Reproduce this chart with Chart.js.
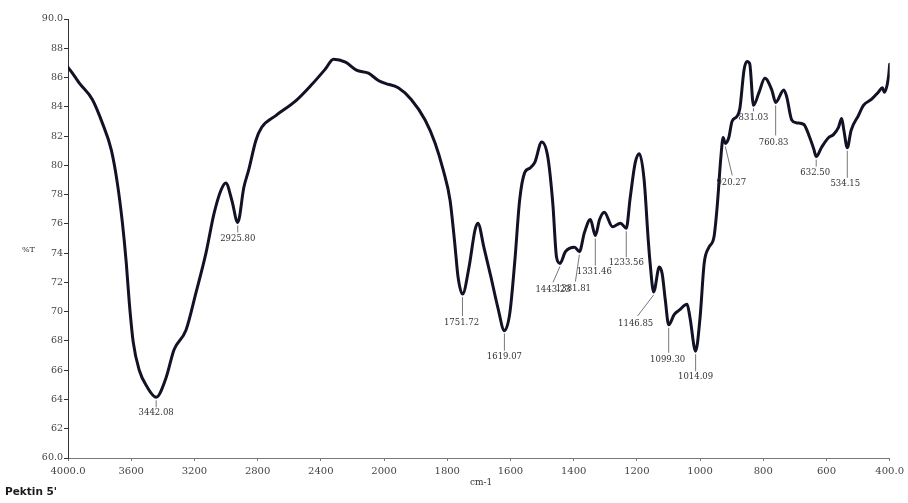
<!DOCTYPE html>
<html>
<head>
<meta charset="utf-8">
<title>Pektin 5' FTIR</title>
<script src="https://cdn.jsdelivr.net/npm/chart.js@4.4.1/dist/chart.umd.min.js"></script>
<style>
  html, body { margin: 0; padding: 0; background: #ffffff; }
  #wrap { position: relative; width: 908px; height: 503px; }
  canvas { display: block; }
</style>
</head>
<body>
<div id="wrap"><canvas id="spectrum" width="908" height="503"></canvas></div>
<script>
// IR spectrum of pectin sample 5': wavenumber (cm-1) vs. transmittance (%T)
const wavenumbers = [
  4000, 3959, 3927, 3846, 3783, 3726, 3688, 3656, 3631, 3612, 3587, 3549, 3499,
  3442.08, 3379, 3329, 3253, 3190, 3127, 3076, 3032, 3001, 2963, 2925.80,
  2887, 2856, 2811, 2774, 2685, 2559, 2459, 2370, 2320, 2244, 2175, 2099, 2036,
  1996, 1955, 1914, 1870, 1838, 1813, 1791, 1775, 1766, 1751.72, 1731, 1712,
  1703, 1684, 1662, 1640, 1619.07, 1602, 1586, 1571, 1555, 1539, 1523, 1501,
  1482, 1466, 1454, 1443.23, 1426, 1397, 1381.81, 1366, 1347, 1331.46, 1318,
  1303, 1277, 1252, 1233.56, 1221, 1205, 1192, 1177, 1164, 1158, 1146.85, 1129,
  1120, 1110, 1099.30, 1082, 1066, 1041, 1032, 1014.09, 1000, 987, 972, 956,
  946, 934, 927, 920.27, 909, 899, 883, 874, 861, 852, 843, 831.03, 814, 795,
  773, 760.83, 735, 726, 710, 694, 672, 653, 640, 632.50, 615, 593, 578, 562,
  552, 545, 534.15, 522, 499, 483, 458, 436, 423, 417, 404, 400
];
const transmittance = [
  86.7, 86.1, 85.6, 84.5, 82.9, 81.05, 78.8, 76.1, 73.3, 70.6, 67.9, 66.0, 64.85,
  64.15, 65.5, 67.4, 68.75, 71.3, 74.0, 76.7, 78.3, 78.8, 77.6, 76.1,
  78.5, 79.7, 81.7, 82.6, 83.4, 84.4, 85.5, 86.6, 87.25, 87.05, 86.5, 86.3, 85.8,
  85.6, 85.3, 84.5, 83.1, 81.5, 79.7, 77.6, 74.4, 72.4, 71.2, 73.05, 75.6,
  76.05, 74.4, 72.4, 70.3, 68.7, 69.9, 73.5, 77.6, 79.5, 79.8, 80.2, 81.6,
  80.6, 77.4, 73.7, 73.3, 74.1, 74.4, 74.1, 75.4, 76.3, 75.2, 76.3,
  76.8, 75.8, 76.05, 75.7, 77.8, 80.2, 80.8, 79.0, 74.9, 73.3, 71.35, 73.05,
  72.6, 70.8, 69.1, 69.8, 70.1, 70.5, 69.6, 67.3, 69.6, 73.3, 74.4, 75.1,
  77.15, 80.6, 81.9, 81.5, 81.9, 83.0, 83.35, 83.9, 86.5, 87.1, 86.95, 84.1, 84.95, 85.95,
  85.15, 84.3, 85.15, 84.7, 83.1, 82.9, 82.8, 81.9, 81.1, 80.6, 81.25, 81.9, 82.1, 82.6,
  83.2, 82.4, 81.2, 82.4, 83.4, 84.1, 84.5, 85.0, 85.3, 85.0, 86.0, 86.9
];

// Labelled absorption bands
const peakWavenumbers = [
  3442.08, 2925.80, 1751.72, 1619.07, 1443.23, 1381.81, 1331.46, 1233.56,
  1146.85, 1099.30, 1014.09, 920.27, 831.03, 760.83, 632.50, 534.15
];

// Axis ticks
const xTickValues = [4000, 3600, 3200, 2800, 2400, 2000, 1800, 1600, 1400, 1200, 1000, 800, 600, 400];
const yTickMin = 60, yTickMax = 90, yTickStep = 2;

// Leader line end [dx, dy] and label centre [dx, dy], relative to the band minimum (px)
const peakLabelLayout = [
  [0, 10, 0, 16], [0, 10, 0, 16], [0, 22, -1, 29], [0, 20, 0, 26],
  [-7, 19, -7, 26], [-4, 30, -6, 37], [0, 30, -1, 36], [0, 29, 0, 35],
  [-16, 24, -18, 32], [0, 28, -1, 35], [0, 20, 0, 26], [7, 32, 6, 39],
  [0, 6, 0, 12], [0, 33, -2, 40], [0, 10, -1, 16], [0, 30, -2, 36]
];

// Split wavenumber axis: 4000-2000 at half the scale of 2000-400
const UNITS = 13;
function wnToUnit(wn) {
  return wn >= 2000 ? (4000 - wn) / 400 : 5 + (2000 - wn) / 200;
}
function unitToWn(u) {
  return u <= 5 ? 4000 - 400 * u : 2000 - 200 * (u - 5);
}

class SplitWavenumberScale extends Chart.LinearScale {
  static id = 'splitWavenumber';
  buildTicks() {
    this.start = this.min;
    this.end = this.max;
    return xTickValues.map(value => ({ value }));
  }
  getPixelForValue(value) {
    return this.getPixelForDecimal(wnToUnit(value) / UNITS);
  }
  getValueForPixel(pixel) {
    return unitToWn(this.getDecimalForPixel(pixel) * UNITS);
  }
}
Chart.register(SplitWavenumberScale);

const serif = '"DejaVu Serif", "Liberation Serif", serif';

const annotations = {
  id: 'spectrumAnnotations',
  afterDatasetsDraw(chart) {
    const { ctx, scales: { x, y } } = chart;
    ctx.save();
    ctx.font = '8.5px ' + serif;
    ctx.fillStyle = '#333';
    ctx.strokeStyle = '#555';
    ctx.lineWidth = 0.8;
    ctx.textAlign = 'center';
    ctx.textBaseline = 'middle';
    peakWavenumbers.forEach((wn, i) => {
      const idx = wavenumbers.indexOf(wn);
      const px = x.getPixelForValue(wn);
      const py = y.getPixelForValue(transmittance[idx]);
      const [lx, ly, tx, ty] = peakLabelLayout[i];
      ctx.beginPath();
      ctx.moveTo(px, py + 3);
      ctx.lineTo(px + lx, py + ly);
      ctx.stroke();
      ctx.fillText(wn.toFixed(2), px + tx, py + ty);
    });

    // axis captions
    ctx.font = '8px ' + serif;
    ctx.fillStyle = '#333';
    ctx.textAlign = 'left';
    ctx.fillText('%T', 22, 250);
    ctx.font = '9px ' + serif;
    ctx.fillText('cm-1', 470, 483);

    // sample name
    ctx.font = 'bold 10.5px "DejaVu Sans", sans-serif';
    ctx.fillStyle = '#1a1a1a';
    ctx.fillText("Pektin 5'", 5, 492);
    ctx.restore();
  }
};

new Chart(document.getElementById('spectrum'), {
  type: 'line',
  data: {
    datasets: [{
      data: wavenumbers.map((wn, i) => ({ x: wn, y: transmittance[i] })),
      borderColor: '#121226',
      borderWidth: 3,
      pointRadius: 0,
      fill: false,
      cubicInterpolationMode: 'monotone',
      borderCapStyle: 'round',
      borderJoinStyle: 'round'
    }]
  },
  options: {
    responsive: false,
    devicePixelRatio: 1,
    animation: false,
    layout: { padding: { top: 19, right: 14, left: 0, bottom: 0 } },
    plugins: { legend: { display: false }, tooltip: { enabled: false }, title: { display: false } },
    scales: {
      x: {
        type: 'splitWavenumber',
        min: 400,
        max: 4000,
        afterFit(scale) { scale.height = 45; },
        border: { display: true, color: '#777', width: 1 },
        grid: { display: true, drawOnChartArea: false, drawTicks: true, tickLength: 3, color: '#777' },
        ticks: {
          autoSkip: false,
          maxRotation: 0,
          padding: 4,
          color: '#444',
          font: { family: serif, size: 10 },
          callback: v => (v === 4000 || v === 400) ? v.toFixed(1) : String(v)
        }
      },
      y: {
        min: yTickMin,
        max: yTickMax,
        afterFit(scale) { scale.width = 68; },
        border: { display: true, color: '#333', width: 1 },
        grid: { display: true, drawOnChartArea: false, drawTicks: true, tickLength: 4, color: '#333' },
        ticks: {
          stepSize: yTickStep,
          padding: 1,
          color: '#444',
          font: { family: serif, size: 9.5 },
          callback: v => (v === yTickMin || v === yTickMax) ? v.toFixed(1) : String(v)
        }
      }
    }
  },
  plugins: [annotations]
});
</script>
</body>
</html>
